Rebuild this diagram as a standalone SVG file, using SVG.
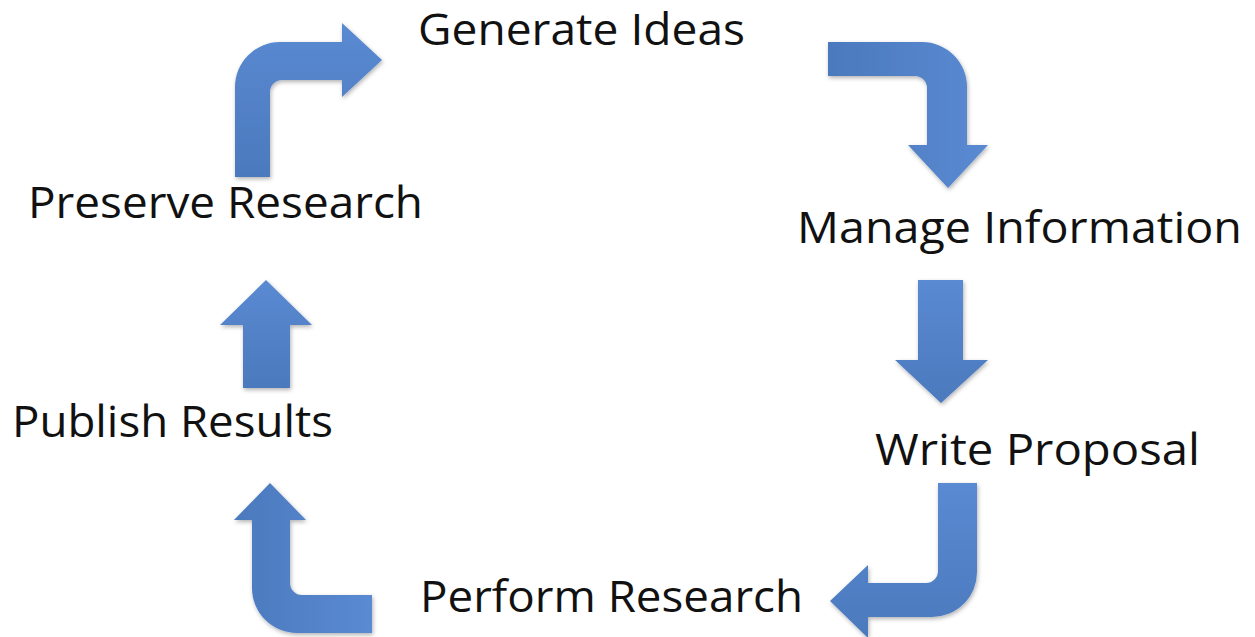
<svg xmlns="http://www.w3.org/2000/svg" width="1255" height="637" viewBox="0 0 1255 637">
  <defs>
    <linearGradient id="gv" x1="0" y1="0" x2="0" y2="1">
      <stop offset="0" stop-color="#5a8ad2"/>
      <stop offset="1" stop-color="#4b79bd"/>
    </linearGradient>
    <linearGradient id="gh" x1="0" y1="0" x2="1" y2="0">
      <stop offset="0" stop-color="#4b79bd"/>
      <stop offset="1" stop-color="#5a8ad2"/>
    </linearGradient>
    <filter id="sh" x="-20%" y="-20%" width="140%" height="140%">
      <feDropShadow dx="1" dy="2" stdDeviation="2" flood-color="#000" flood-opacity="0.3"/>
    </filter>
  </defs>
  <style>
    .arrow { fill: url(#gv); filter: url(#sh); }
    .arrowh { fill: url(#gh); filter: url(#sh); }
    .label { font-family: "Open Sans", "Noto Sans", "Liberation Sans", sans-serif; font-size: 44px; fill: #111; }
  </style>
  <rect width="1255" height="637" fill="#ffffff"/>

  <g id="connectors">
    <path id="arrow-preserve-generate" class="arrow" d="M235,177 L235,87 A45,45 0 0 1 280,42 L342,42 L342,23 L382,60 L342,97 L342,80 L282,80 A12,12 0 0 0 270,92 L270,177 Z"/>
    <path id="arrow-generate-manage" class="arrowh" d="M828,42 L922,42 A45,45 0 0 1 967,87 L967,145 L988,145 L948,188 L908,145 L927,145 L927,88 A12,12 0 0 0 915,76 L828,76 Z"/>
    <path id="arrow-manage-write" class="arrow" d="M918,280 L963,280 L963,360 L988,360 L941,403 L895,360 L918,360 Z"/>
    <path id="arrow-write-perform" class="arrow" d="M938,483 L977,483 L977,572 A45,45 0 0 1 932,617 L868,617 L868,638 L830,601 L868,565 L868,583 L926,583 A12,12 0 0 0 938,571 Z"/>
    <path id="arrow-perform-publish" class="arrowh" d="M372,633 L297,633 A45,45 0 0 1 252,588 L252,520 L234,520 L270,483 L306,520 L290,520 L290,583 A12,12 0 0 0 302,595 L372,595 Z"/>
    <path id="arrow-publish-preserve" class="arrow" d="M243,388 L243,325 L220,325 L266,280 L312,325 L290,325 L290,388 Z"/>
  </g>

  <g id="node-generate-ideas">
    <text class="label" x="418" y="45" textLength="327" lengthAdjust="spacingAndGlyphs">Generate Ideas</text>
  </g>
  <g id="node-manage-information">
    <text class="label" x="797" y="243" textLength="445" lengthAdjust="spacingAndGlyphs">Manage Information</text>
  </g>
  <g id="node-write-proposal">
    <text class="label" x="875" y="465" textLength="325" lengthAdjust="spacingAndGlyphs">Write Proposal</text>
  </g>
  <g id="node-perform-research">
    <text class="label" x="420" y="612" textLength="383" lengthAdjust="spacingAndGlyphs">Perform Research</text>
  </g>
  <g id="node-publish-results">
    <text class="label" x="12" y="437" textLength="321" lengthAdjust="spacingAndGlyphs">Publish Results</text>
  </g>
  <g id="node-preserve-research">
    <text class="label" x="28" y="218" textLength="395" lengthAdjust="spacingAndGlyphs">Preserve Research</text>
  </g>
</svg>
